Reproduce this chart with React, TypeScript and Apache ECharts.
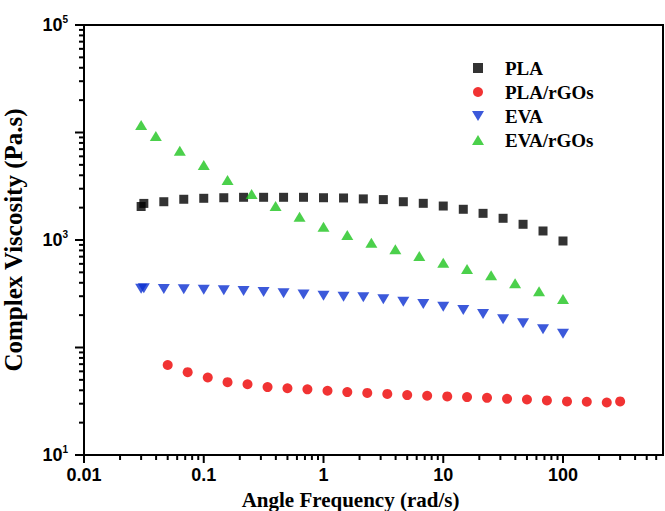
import React, { useEffect, useRef } from "react";
import * as echarts from "echarts";

// ---- data ----
const plaFreq = [0.03, 0.0316, 0.0464, 0.0681, 0.1, 0.147, 0.215, 0.316, 0.464, 0.681, 1, 1.47, 2.15, 3.16, 4.64, 6.81, 10, 14.7, 21.5, 31.6, 46.4, 68.1, 100];
const plaVisc = [2050, 2190, 2270, 2393, 2443, 2473, 2496, 2496, 2496, 2496, 2473, 2460, 2412, 2376, 2270, 2194, 2070, 1931, 1770, 1592, 1400, 1213, 979];

const plaRgoFreq = [0.05, 0.0734, 0.108, 0.158, 0.232, 0.341, 0.5, 0.734, 1.08, 1.58, 2.32, 3.41, 5, 7.34, 10.8, 15.8, 23.2, 34.1, 50, 73.4, 108, 158, 232, 300];
const plaRgoVisc = [68.8, 59.0, 52.6, 47.6, 45.5, 42.8, 41.8, 40.8, 39.6, 38.5, 37.8, 37.0, 36.1, 35.6, 35.1, 34.6, 34.0, 33.3, 32.8, 32.2, 31.5, 31.3, 30.8, 31.5];

const evaFreq = [0.03, 0.0316, 0.0464, 0.0681, 0.1, 0.147, 0.215, 0.316, 0.464, 0.681, 1, 1.47, 2.15, 3.16, 4.64, 6.81, 10, 14.7, 21.5, 31.6, 46.4, 68.1, 100];
const evaVisc = [352, 355, 350, 348, 345, 341, 335, 328, 319, 312, 303, 297, 293, 281, 267, 254, 240, 223, 205, 183, 168, 148, 134];

const evaRgoFreq = [0.03, 0.0398, 0.0631, 0.1, 0.158, 0.251, 0.398, 0.631, 1, 1.58, 2.51, 3.98, 6.31, 10, 15.8, 25.1, 39.8, 63.1, 100];
const evaRgoVisc = [11740, 9276, 6770, 4987, 3614, 2679, 2070, 1647, 1330, 1113, 944, 819, 710, 615, 537, 470, 396, 333, 283];

const seriesNames = ["PLA", "PLA/rGOs", "EVA", "EVA/rGOs"];
const xTickLabels = ["0.01", "0.1", "1", "10", "100"];
const xMajorTicks = [0.01, 0.1, 1, 10, 100];
const yMajorTicks = [10, 100, 1000, 10000, 100000];
const xMin = 0.01;
const xMax = 684;
const yMin = 10;
const yMax = 100000;

const DOWN_TRI = "path://M0,0L12,0L6,10Z";
const SQUARE = "path://M0,0L10,0L10,10L0,10Z";

function minorTicks(majors: number[], maxV: number) {
  const out: number[] = [];
  for (const m of majors) {
    for (let k = 2; k <= 9; k++) {
      const v = m * k;
      if (v < maxV) out.push(v);
    }
  }
  return out;
}

function zip(a: number[], b: number[]) {
  return a.map((v, i) => [v, b[i]]);
}

export default function App() {
  const ref = useRef<HTMLDivElement>(null);
  useEffect(() => {
    document.body.style.margin = "0";
    if (!ref.current) return;
    const chart = echarts.init(ref.current, undefined, { renderer: "svg" });

    const xTickData = [
      ...xMajorTicks.map((v) => [v, yMin, 1]),
      ...minorTicks([0.01, 0.1, 1, 10, 100], xMax).map((v) => [v, yMin, 0]),
    ];
    const yTickData = [
      ...yMajorTicks.map((v) => [xMin, v, 1]),
      ...minorTicks([10, 100, 1000, 10000], yMax).map((v) => [xMin, v, 0]),
    ];

    const labelFont = { fontFamily: "Liberation Sans", fontWeight: "bold" as const, color: "#000" };

    chart.setOption({
      animation: false,
      grid: {
        left: 84,
        top: 25,
        right: 2,
        bottom: 56,
        show: true,
        borderColor: "#000",
        borderWidth: 2,
        containLabel: false,
        outerBoundsMode: "none",
      },
      legend: {
        orient: "vertical",
        left: 472,
        top: 58,
        padding: 0,
        itemWidth: 12,
        itemHeight: 10,
        itemGap: 4,
        data: [
          { name: seriesNames[0], icon: SQUARE },
          { name: seriesNames[1], icon: "circle" },
          { name: seriesNames[2], icon: DOWN_TRI },
          { name: seriesNames[3], icon: "triangle" },
        ],
        textStyle: {
          fontFamily: "Liberation Serif",
          fontWeight: "bold",
          fontSize: 19,
          lineHeight: 20,
          color: "#000",
          padding: [0, 0, 0, 16],
        },
      },
      xAxis: {
        type: "log",
        logBase: 10,
        min: xMin,
        max: xMax,
        name: "Angle Frequency (rad/s)",
        nameLocation: "middle",
        nameGap: 23,
        nameTextStyle: {
          fontFamily: "Liberation Serif",
          fontWeight: "bold",
          fontSize: 21,
          lineHeight: 23,
          color: "#000",
          padding: [0, 46, 0, 0],
        },
        axisLine: { show: true, lineStyle: { color: "#000", width: 2 } },
        axisTick: { show: false },
        minorTick: { show: false },
        splitLine: { show: false },
        axisLabel: {
          ...labelFont,
          fontSize: 18,
          margin: 11,
          formatter: (v: number) => {
            const e = Math.log10(v);
            const r = Math.round(e);
            if (Math.abs(e - r) > 1e-6) return "";
            const idx = xMajorTicks.findIndex((t) => Math.abs(Math.log10(t) - r) < 1e-6);
            return idx >= 0 ? xTickLabels[idx] : "";
          },
        },
      },
      yAxis: {
        type: "log",
        logBase: 10,
        min: yMin,
        max: yMax,
        name: "Complex Viscosity (Pa.s)",
        nameLocation: "middle",
        nameRotate: 90,
        nameGap: 58,
        nameTextStyle: {
          fontFamily: "Liberation Serif",
          fontWeight: "bold",
          fontSize: 25,
          color: "#000",
        },
        axisLine: { show: true, lineStyle: { color: "#000", width: 2 } },
        axisTick: { show: false },
        minorTick: { show: false },
        splitLine: { show: false },
        axisLabel: {
          margin: 16,
          formatter: (v: number) => {
            const e = Math.log10(v);
            const r = Math.round(e);
            if (Math.abs(e - r) > 1e-6) return "";
            if (r % 2 === 0) return "";
            return "{b|10}{s|" + r + "}";
          },
          rich: {
            b: { ...labelFont, fontSize: 18, lineHeight: 22 },
            s: { ...labelFont, fontSize: 10, verticalAlign: "top", lineHeight: 22 },
          },
        },
      },
      series: [
        {
          name: seriesNames[0],
          type: "scatter",
          symbol: "rect",
          symbolSize: 9,
          itemStyle: { color: "#000" },
          data: zip(plaFreq, plaVisc),
          z: 3,
        },
        {
          name: seriesNames[1],
          type: "scatter",
          symbol: "circle",
          symbolSize: 10,
          itemStyle: { color: "#ee0000" },
          data: zip(plaRgoFreq, plaRgoVisc),
          z: 3,
        },
        {
          name: seriesNames[2],
          type: "scatter",
          symbol: DOWN_TRI,
          symbolSize: [12, 10],
          itemStyle: { color: "#0b2fd1" },
          data: zip(evaFreq, evaVisc),
          z: 3,
        },
        {
          name: seriesNames[3],
          type: "scatter",
          symbol: "triangle",
          symbolSize: [12, 10],
          itemStyle: { color: "#1ec41e" },
          data: zip(evaRgoFreq, evaRgoVisc),
          z: 4,
        },
        {
          name: "xticks",
          type: "custom",
          clip: false,
          silent: true,
          data: xTickData,
          renderItem: (_p: any, api: any) => {
            const pt = api.coord([api.value(0), api.value(1)]);
            const len = api.value(2) ? 8 : 5;
            return {
              type: "line",
              shape: { x1: pt[0], y1: pt[1], x2: pt[0], y2: pt[1] + len },
              style: { stroke: "#000", lineWidth: 2 },
            };
          },
        },
        {
          name: "yticks",
          type: "custom",
          clip: false,
          silent: true,
          data: yTickData,
          renderItem: (_p: any, api: any) => {
            const pt = api.coord([api.value(0), api.value(1)]);
            const len = api.value(2) ? 9 : 5;
            return {
              type: "line",
              shape: { x1: pt[0], y1: pt[1], x2: pt[0] - len, y2: pt[1] },
              style: { stroke: "#000", lineWidth: 2 },
            };
          },
        },
      ],
    });
    return () => chart.dispose();
  }, []);
  return <div ref={ref} style={{ width: 665, height: 511 }} />;
}
